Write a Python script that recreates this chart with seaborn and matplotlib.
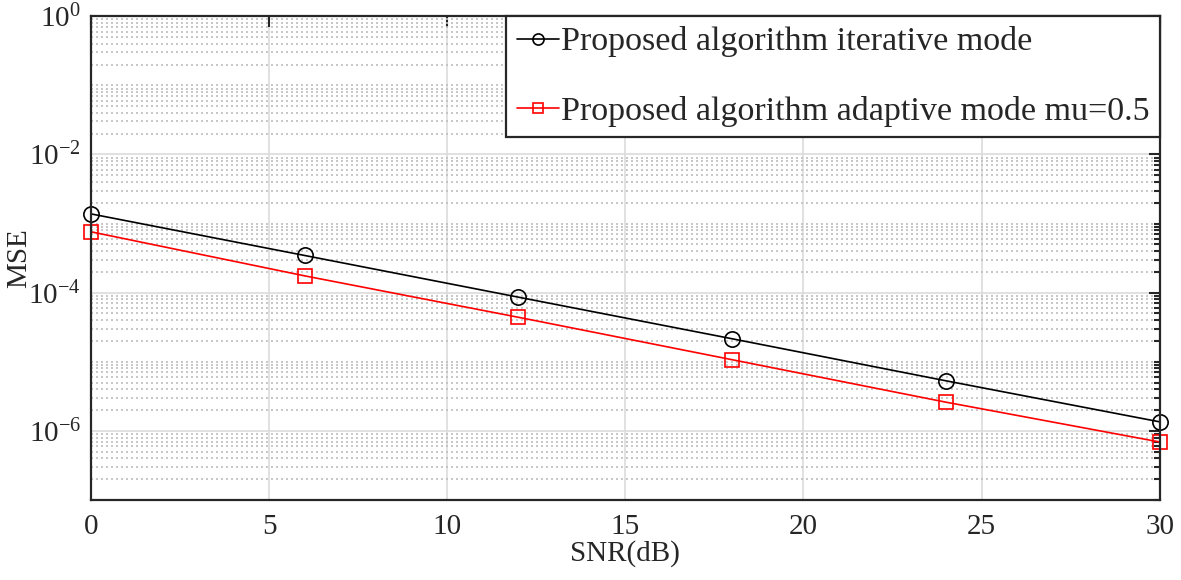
import numpy as np
import pandas as pd
import matplotlib
matplotlib.use("Agg")
import matplotlib.pyplot as plt
import matplotlib.ticker as mticker
import seaborn as sns

snr_db = [0, 6, 12, 18, 24, 30]
mse_iterative = [1.38e-3, 3.45e-4, 8.6e-5, 2.15e-5, 5.3e-6, 1.35e-6]
mse_adaptive = [7.6e-4, 1.75e-4, 4.4e-5, 1.07e-5, 2.6e-6, 6.9e-7]
series_names = ["Proposed algorithm iterative mode",
                "Proposed algorithm adaptive mode mu=0.5"]

df = pd.DataFrame({
    "SNR": snr_db * 2,
    "MSE": mse_iterative + mse_adaptive,
    "series": [series_names[0]] * len(snr_db) + [series_names[1]] * len(snr_db),
})

sns.set_style("white")
plt.rcParams["font.family"] = ["Liberation Serif", "DejaVu Serif"]
plt.rcParams["mathtext.fontset"] = "custom"
plt.rcParams["mathtext.rm"] = "Liberation Serif"
plt.rcParams["mathtext.it"] = "Liberation Serif"

fig = plt.figure(figsize=(11.81, 5.8), dpi=100)
ax = fig.add_axes([0.077, 0.138, 0.905, 0.834])

sns.lineplot(
    data=df, x="SNR", y="MSE", hue="series", style="series",
    palette={series_names[0]: "black", series_names[1]: "red"},
    markers={series_names[0]: "o", series_names[1]: "s"},
    dashes=False, linewidth=1.2, legend=False, ax=ax,
)
lines = ax.get_lines()[:2]
for line, ms in zip(lines, [11, 9.5]):
    line.set_markersize(ms)
    line.set_markerfacecolor("none")
    line.set_markeredgecolor(line.get_color())
    line.set_markeredgewidth(1.2)
    line.set_clip_on(False)

ax.set_yscale("log")
ax.set_xlim(0, 30)
ax.set_ylim(1e-7, 1e0)
ax.set_xticks([0, 5, 10, 15, 20, 25, 30])
ax.yaxis.set_major_locator(mticker.FixedLocator([1e0, 1e-2, 1e-4, 1e-6]))
ax.yaxis.set_major_formatter(mticker.FuncFormatter(
    lambda v, p: r"$10^{\mathrm{%d}}$" % round(np.log10(v))))
ax.yaxis.set_minor_locator(mticker.LogLocator(base=10, subs=np.arange(1, 10), numticks=20))
ax.yaxis.set_minor_formatter(mticker.NullFormatter())

ax.grid(True, which="major", color="#dcdcdc", linewidth=1.2, linestyle="-")
ax.grid(True, which="minor", axis="y", color="#bdbdbd", linewidth=1.2, linestyle=(0, (1.2, 1.8)))
ax.set_axisbelow(True)

ax.tick_params(which="both", direction="in", top=True, right=True, labelsize=21)
ax.tick_params(axis="x", pad=10)
ax.tick_params(axis="y", pad=7)
ax.tick_params(which="major", length=8, width=1.5)
ax.tick_params(which="minor", length=4.5, width=1.5)
for s in ax.spines.values():
    s.set_visible(True)
    s.set_color("#262626")
    s.set_linewidth(1.6)

ax.set_xlabel("SNR(dB)", fontsize=21, labelpad=0)
ax.set_ylabel("MSE", fontsize=21)
ax.yaxis.set_label_coords(-0.055, 0.5)

leg = ax.legend(lines, series_names, loc="upper right", fontsize=24.5, frameon=True,
                fancybox=False, borderaxespad=0, handlelength=1.25, handletextpad=0.05,
                labelspacing=1.12, borderpad=0.3, numpoints=1)
leg.get_frame().set_edgecolor("#262626")
leg.get_frame().set_linewidth(1.6)
leg.get_frame().set_alpha(1)
for h, ms in zip(leg.legend_handles, [8, 7.5]):
    h.set_markersize(ms)

fig.savefig("out.png", dpi=100)
